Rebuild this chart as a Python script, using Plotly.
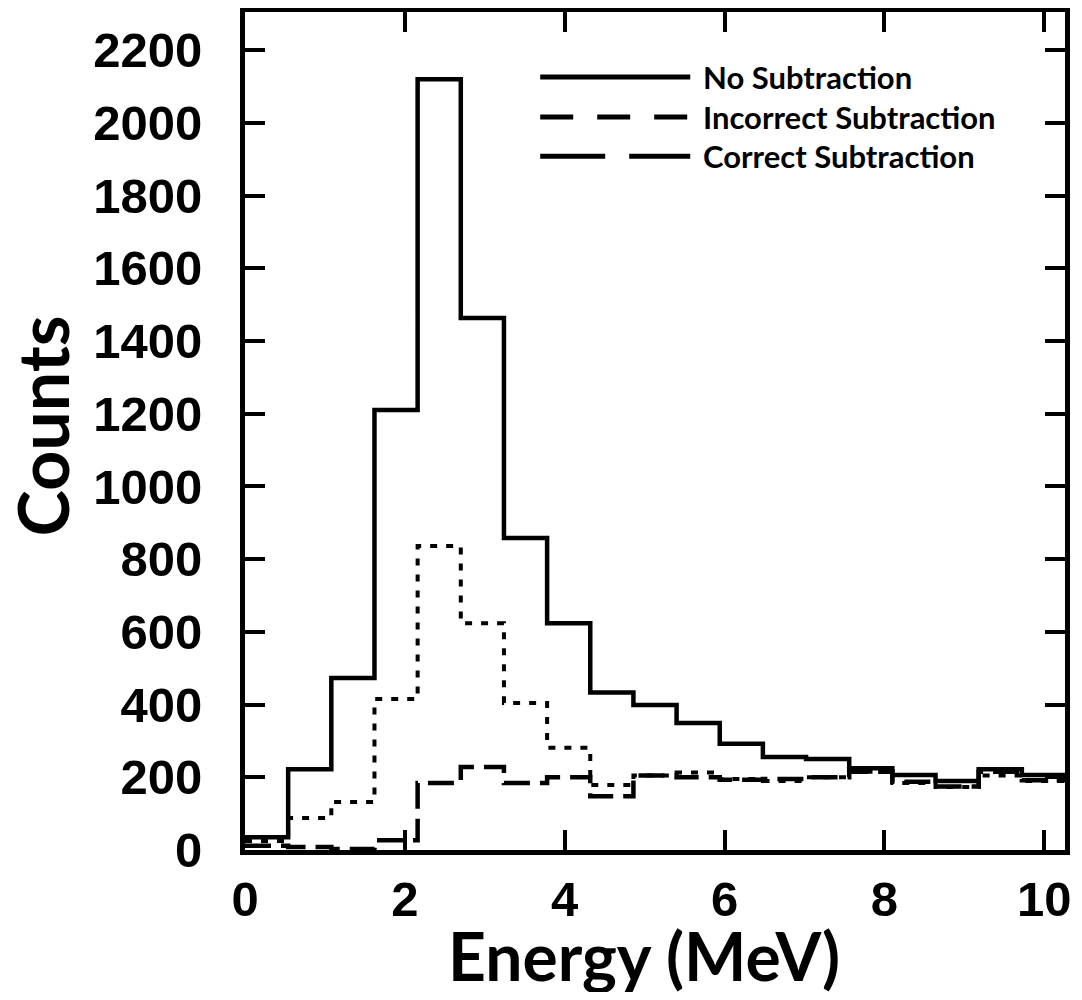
import plotly.graph_objects as go

# bin edges (MeV) and counts per bin
energy_edges = [0.0, 0.54, 1.08, 1.62, 2.16, 2.70, 3.24, 3.78, 4.32, 4.86,
                5.40, 5.94, 6.48, 7.02, 7.56, 8.10, 8.64, 9.18, 9.72, 10.26]
no_subtraction = [35, 222, 473, 1210, 2120, 1463, 858, 624, 433, 399,
                  349, 292, 256, 250, 225, 206, 190, 222, 206]
incorrect_subtraction = [25, 88, 132, 415, 836, 624, 404, 281, 179, 205,
                         213, 195, 190, 200, 215, 184, 173, 205, 190]
correct_subtraction = [12, 8, 3, 27, 184, 228, 184, 200, 148, 205,
                       200, 193, 195, 200, 215, 188, 175, 215, 192]

series_names = ["No Subtraction", "Incorrect Subtraction", "Correct Subtraction"]
y_ticks = list(range(0, 2201, 200))
x_ticks = [0, 2, 4, 6, 8, 10]

TITLE_FONT = "Lato"
TICK_FONT = "Liberation Sans"


def steps(vals):
    # repeat the last value so the final bin gets drawn to its right edge
    return vals + [vals[-1]]


fig = go.Figure()
plot_styles = [
    dict(width=4.5, dash="solid"),
    dict(width=4, dash="7px,9px"),
    dict(width=4.5, dash="26px,10px"),
]
for name, vals, st in zip(series_names,
                          [no_subtraction, incorrect_subtraction, correct_subtraction],
                          plot_styles):
    fig.add_trace(go.Scatter(
        x=energy_edges, y=steps(vals), mode="lines", name=name,
        line=dict(color="black", width=st["width"], dash=st["dash"], shape="hv"),
        showlegend=False,
    ))

# hand-made legend (long sample lines like the original)
legend_y = [0.9224, 0.8747, 0.828]
legend_dash = ["solid", "33px,24px", "65px,24px"]
for name, yy, dash in zip(series_names, legend_y, legend_dash):
    fig.add_shape(type="line", xref="paper", yref="paper",
                  x0=0.36, x1=0.543, y0=yy, y1=yy,
                  line=dict(color="black", width=5, dash=dash))
    fig.add_annotation(xref="paper", yref="paper", x=0.556, y=yy,
                       xanchor="left", yanchor="middle", showarrow=False,
                       text="<b>%s</b>" % name,
                       font=dict(family=TITLE_FONT, size=31, color="black"))

# axis titles as annotations so they sit where the original has them
fig.add_annotation(xref="paper", yref="paper", x=0.487, y=-0.1255,
                   xanchor="center", yanchor="middle", showarrow=False,
                   text="<b>Energy (MeV)</b>",
                   font=dict(family=TITLE_FONT, size=66, color="black"))
fig.add_annotation(xref="paper", yref="paper", x=-0.247, y=0.506,
                   xanchor="center", yanchor="middle", showarrow=False,
                   textangle=-90, text="<b>Counts</b>",
                   font=dict(family=TITLE_FONT, size=70, color="black"))

axis_common = dict(
    showline=True, linewidth=5, linecolor="black", mirror="ticks",
    ticks="inside", ticklen=20, tickwidth=4, tickcolor="black",
    showgrid=False, zeroline=False, automargin=False,
    tickfont=dict(family=TICK_FONT, size=49, color="black", weight="bold"),
)

fig.update_xaxes(range=[0, 10.26], tickvals=x_ticks, ticklabelstandoff=2,
                 **axis_common)
fig.update_yaxes(range=[0, 2305], tickvals=y_ticks, ticklabelstandoff=28,
                 **axis_common)

fig.update_layout(
    width=1066, height=984,
    margin=dict(l=237, r=9, t=4, b=142),
    paper_bgcolor="white", plot_bgcolor="white",
)

fig.write_html("out.html")
